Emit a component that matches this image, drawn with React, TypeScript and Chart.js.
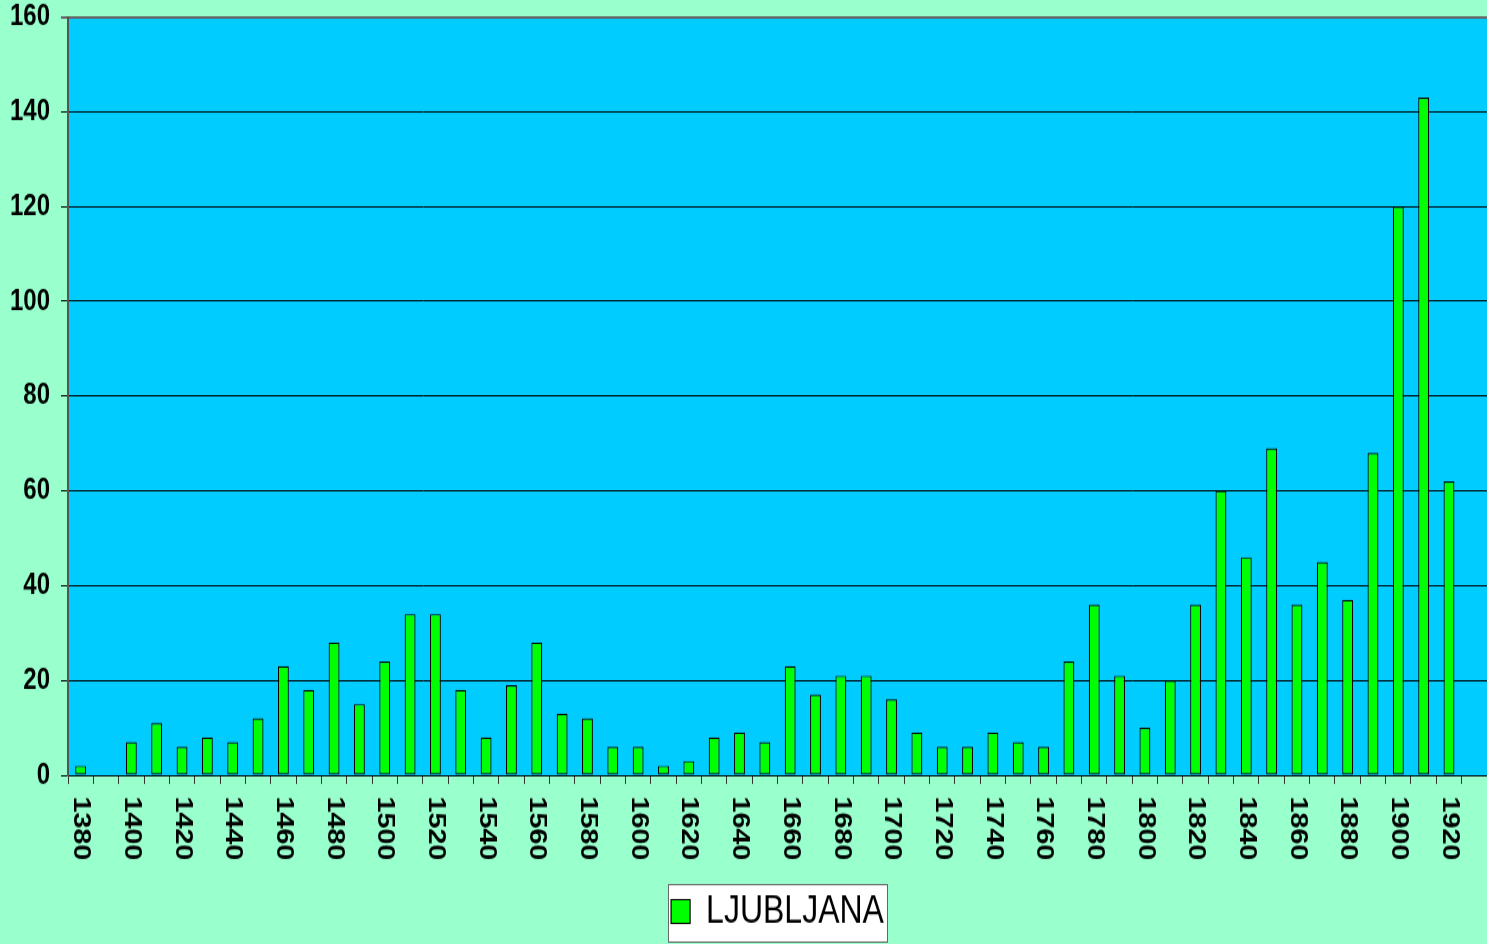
import { useEffect, useRef } from 'react';
import { Chart, registerables } from 'chart.js';

Chart.register(...registerables);

const YEARS = [
  '1380', '1390', '1400', '1410', '1420', '1430', '1440', '1450', '1460', '1470',
  '1480', '1490', '1500', '1510', '1520', '1530', '1540', '1550', '1560', '1570',
  '1580', '1590', '1600', '1610', '1620', '1630', '1640', '1650', '1660', '1670',
  '1680', '1690', '1700', '1710', '1720', '1730', '1740', '1750', '1760', '1770',
  '1780', '1790', '1800', '1810', '1820', '1830', '1840', '1850', '1860', '1870',
  '1880', '1890', '1900', '1910', '1920', '1930',
];

const LJUBLJANA: (number | null)[] = [
  2, 0, 7, 11, 6, 8, 7, 12, 23, 18,
  28, 15, 24, 34, 34, 18, 8, 19, 28, 13,
  12, 6, 6, 2, 3, 8, 9, 7, 23, 17,
  21, 21, 16, 9, 6, 6, 9, 7, 6, 24,
  36, 21, 10, 20, 36, 60, 46, 69, 36, 45,
  37, 68, 120, 143, 62, null,
];

const Y_TICKS = [0, 20, 40, 60, 80, 100, 120, 140, 160];

const SERIES_NAME = 'LJUBLJANA';

const W = 1487;
const H = 755; // internal height; stretched to 944 by CSS
const FONT = "'Liberation Sans', Arial, sans-serif";

const bgPlugin = {
  id: 'bgPlugin',
  beforeDraw(chart: any) {
    const { ctx, chartArea } = chart;
    ctx.save();
    ctx.fillStyle = '#00CCFF';
    ctx.fillRect(chartArea.left, chartArea.top, chartArea.right - chartArea.left, chartArea.bottom - chartArea.top);
    const lg = chart.legend;
    if (lg && lg.legendHitBoxes && lg.legendHitBoxes.length) {
      const hb = lg.legendHitBoxes[0];
      const cy = hb.top + hb.height / 2;
      const bx = Math.round(hb.left - 3) + 0.5;
      const by = Math.round(cy - 22) + 0.5;
      const bw = Math.round(hb.width + 6);
      ctx.fillStyle = '#ffffff';
      ctx.fillRect(bx, by, bw, 46);
      ctx.strokeStyle = '#666666';
      ctx.lineWidth = 1;
      ctx.strokeRect(bx, by, bw, 46);
    }
    ctx.restore();
  },
};

const xLabelPlugin = {
  id: 'xLabelPlugin',
  afterDraw(chart: any) {
    const { ctx } = chart;
    const xs = chart.scales.x;
    ctx.save();
    ctx.fillStyle = '#000000';
    ctx.font = `bold 23px ${FONT}`;
    ctx.textAlign = 'left';
    ctx.textBaseline = 'middle';
    for (let i = 0; i < YEARS.length; i += 2) {
      if (i === YEARS.length - 1) continue;
      const x = xs.getPixelForValue(i);
      ctx.save();
      ctx.translate(x, xs.top + 17);
      ctx.rotate(Math.PI / 2);
      ctx.fillText(YEARS[i], 0, 0);
      ctx.restore();
    }
    ctx.restore();
  },
};

export default function App() {
  const ref = useRef<HTMLCanvasElement | null>(null);

  useEffect(() => {
    if (!ref.current) return;
    const chart = new Chart(ref.current, {
      type: 'bar',
      data: {
        labels: YEARS,
        datasets: [
          {
            label: SERIES_NAME,
            data: LJUBLJANA,
            backgroundColor: '#00FF00',
            borderColor: '#000000',
            borderWidth: 1.2,
            borderSkipped: false,
            categoryPercentage: 1,
            barPercentage: 0.43,
          },
        ],
      },
      options: {
        responsive: false,
        animation: false,
        devicePixelRatio: 1,
        layout: { padding: { top: 13.6, left: 0, right: 0, bottom: 0 } },
        plugins: {
          tooltip: { enabled: false },
          legend: {
            display: true,
            position: 'bottom',
            fullSize: false,
            labels: {
              color: '#000000',
              font: { family: FONT, size: 32, weight: 'normal' },
              boxWidth: 19,
              boxHeight: 19,
              padding: 10,
            },
          },
        },
        scales: {
          x: {
            type: 'category',
            offset: true,
            afterFit(scale: any) {
              scale.height = 83;
              scale.paddingLeft = 0;
              scale.paddingRight = 0;
            },
            grid: {
              offset: true,
              drawOnChartArea: false,
              drawTicks: true,
              tickLength: 7,
              color: '#333333',
              lineWidth: 1,
            },
            border: { display: true, color: '#000000', width: 1 },
            ticks: { display: false, autoSkip: false },
          },
          y: {
            min: 0,
            max: 160,
            afterFit(scale: any) {
              scale.width = 68;
              scale.paddingTop = 0;
              scale.paddingBottom = 0;
            },
            afterBuildTicks(scale: any) {
              scale.ticks = Y_TICKS.map((v) => ({ value: v }));
            },
            grid: {
              color: (c: any) => (c.tick && c.tick.value === 160 ? '#666666' : '#000000'),
              lineWidth: (c: any) => (c.tick && c.tick.value === 160 ? 2 : 1),
              tickLength: 7,
              drawTicks: true,
            },
            border: { display: true, color: '#555555', width: 2 },
            ticks: {
              color: '#000000',
              padding: 11,
              font: { family: FONT, size: 24, weight: 'bold' },
            },
          },
        },
      },
      plugins: [bgPlugin, xLabelPlugin],
    } as any);
    return () => chart.destroy();
  }, []);

  return (
    <div
      style={{
        position: 'fixed',
        left: 0,
        top: 0,
        width: W,
        height: 944,
        background: '#99FFCC',
        overflow: 'hidden',
      }}
    >
      <canvas
        ref={ref}
        width={W}
        height={H}
        style={{ display: 'block', width: `${W}px`, height: '944px' }}
      />
    </div>
  );
}
